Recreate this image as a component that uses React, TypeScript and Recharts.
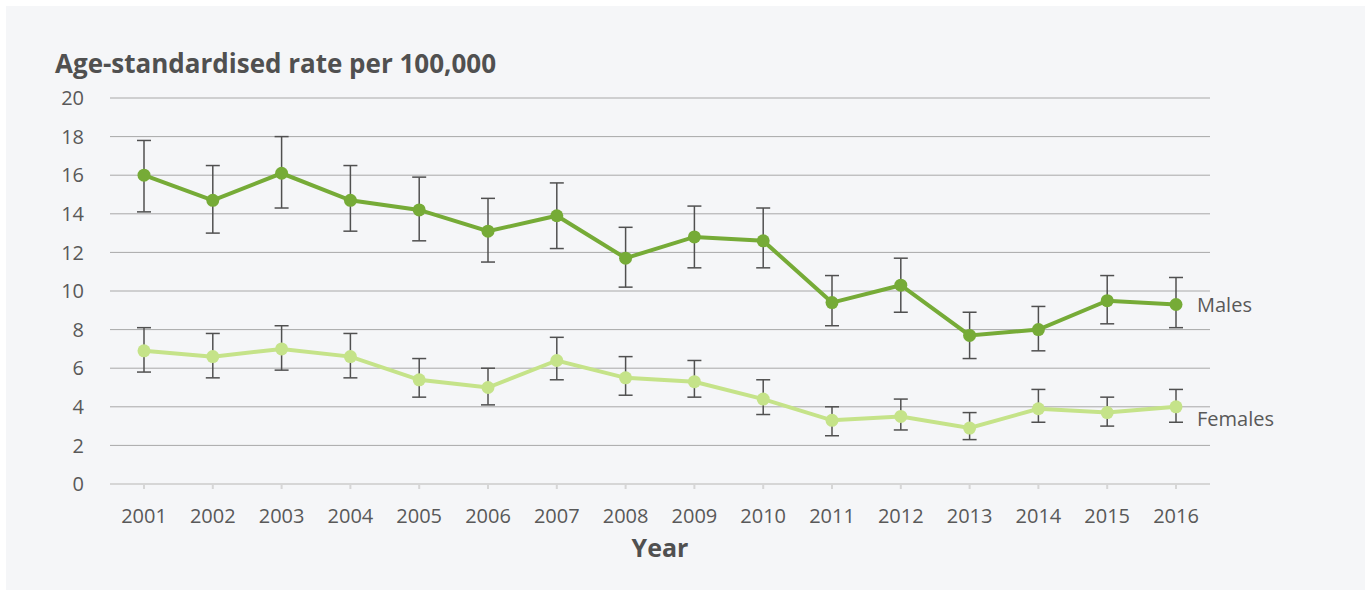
import React from 'react';
import { LineChart, Line, XAxis, YAxis, CartesianGrid, ErrorBar, LabelList } from 'recharts';

// Years on the horizontal axis
const years = ['2001', '2002', '2003', '2004', '2005', '2006', '2007', '2008', '2009', '2010', '2011', '2012', '2013', '2014', '2015', '2016'];

// Age-standardised rate per 100,000 with 95% confidence limits
const males = [16.0, 14.7, 16.1, 14.7, 14.2, 13.1, 13.9, 11.7, 12.8, 12.6, 9.4, 10.3, 7.7, 8.0, 9.5, 9.3];
const malesLow = [14.1, 13.0, 14.3, 13.1, 12.6, 11.5, 12.2, 10.2, 11.2, 11.2, 8.2, 8.9, 6.5, 6.9, 8.3, 8.1];
const malesHigh = [17.8, 16.5, 18.0, 16.5, 15.9, 14.8, 15.6, 13.3, 14.4, 14.3, 10.8, 11.7, 8.9, 9.2, 10.8, 10.7];

const females = [6.9, 6.6, 7.0, 6.6, 5.4, 5.0, 6.4, 5.5, 5.3, 4.4, 3.3, 3.5, 2.9, 3.9, 3.7, 4.0];
const femalesLow = [5.8, 5.5, 5.9, 5.5, 4.5, 4.1, 5.4, 4.6, 4.5, 3.6, 2.5, 2.8, 2.3, 3.2, 3.0, 3.2];
const femalesHigh = [8.1, 7.8, 8.2, 7.8, 6.5, 6.0, 7.6, 6.6, 6.4, 5.4, 4.0, 4.4, 3.7, 4.9, 4.5, 4.9];

const yTicks = [0, 2, 4, 6, 8, 10, 12, 14, 16, 18, 20];
const seriesNames = ['Males', 'Females'];

const FONT = '"Open Sans", "Noto Sans", sans-serif';
const TEXT = '#595959';
const MALE_GREEN = '#76ab37';
const FEMALE_GREEN = '#c5e389';
const last = years.length - 1;

const rows = years.map((year, i) => ({
  year,
  males: males[i],
  malesErr: [+(males[i] - malesLow[i]).toFixed(2), +(malesHigh[i] - males[i]).toFixed(2)],
  females: females[i],
  femalesErr: [+(females[i] - femalesLow[i]).toFixed(2), +(femalesHigh[i] - females[i]).toFixed(2)],
  maleTag: i === last ? seriesNames[0] : '',
  femaleTag: i === last ? seriesNames[1] : '',
}));

const endLabel = (dy: number) => (props: any) => {
  const { x, y, value } = props;
  if (!value) return null;
  return (
    <text x={Number(x) + 21} y={Number(y) + dy} dy="0.35em" fill={TEXT} fontSize={20} fontFamily={FONT}>
      {value}
    </text>
  );
};

export default function App() {
  return (
    <div style={{ position: 'absolute', left: 0, top: 0, width: 1370, height: 594, background: '#ffffff' }}>
      <div style={{ position: 'absolute', left: 6, top: 6, width: 1359, height: 584, background: '#f5f6f8' }} />
      <div
        style={{
          position: 'absolute',
          left: 55,
          top: 46,
          fontFamily: FONT,
          fontWeight: 700,
          fontSize: 26,
          color: '#505050',
          whiteSpace: 'nowrap',
          lineHeight: '34px',
        }}
      >
        Age-standardised rate per 100,000
      </div>
      <div style={{ position: 'absolute', left: 0, top: 0 }}>
        <LineChart width={1370} height={594} data={rows} margin={{ top: 98, right: 160, bottom: 35, left: 30 }}>
          <CartesianGrid vertical={false} stroke="#a8a8a8" strokeWidth={1} />
          <XAxis
            dataKey="year"
            height={75}
            padding={{ left: 34, right: 34 }}
            axisLine={{ stroke: '#d6d6d6', strokeWidth: 2 }}
            tickLine={{ stroke: '#d6d6d6', strokeWidth: 2 }}
            tickSize={5}
            tickMargin={20}
            tick={{ fill: TEXT, fontSize: 20, fontFamily: FONT }}
            interval={0}
            label={{ value: 'Year', position: 'insideBottom', offset: 2, fill: '#505050', fontSize: 25, fontWeight: 700, fontFamily: FONT }}
          />
          <YAxis
            width={80}
            domain={[0, 20]}
            ticks={yTicks}
            interval={0}
            axisLine={false}
            tickLine={false}
            tickSize={0}
            tickMargin={26}
            tick={{ fill: TEXT, fontSize: 20, fontFamily: FONT }}
          />
          <Line
            dataKey="males"
            stroke={MALE_GREEN}
            strokeWidth={4}
            dot={{ r: 6.5, fill: MALE_GREEN, stroke: MALE_GREEN, strokeWidth: 0 }}
            activeDot={false}
            isAnimationActive={false}
          >
            <ErrorBar dataKey="malesErr" direction="y" width={7} stroke="#505050" strokeWidth={1.5} isAnimationActive={false} />
            <LabelList dataKey="maleTag" content={endLabel(0)} />
          </Line>
          <Line
            dataKey="females"
            stroke={FEMALE_GREEN}
            strokeWidth={4}
            dot={{ r: 6.5, fill: FEMALE_GREEN, stroke: FEMALE_GREEN, strokeWidth: 0 }}
            activeDot={false}
            isAnimationActive={false}
          >
            <ErrorBar dataKey="femalesErr" direction="y" width={7} stroke="#505050" strokeWidth={1.5} isAnimationActive={false} />
            <LabelList dataKey="femaleTag" content={endLabel(12)} />
          </Line>
        </LineChart>
      </div>
    </div>
  );
}
